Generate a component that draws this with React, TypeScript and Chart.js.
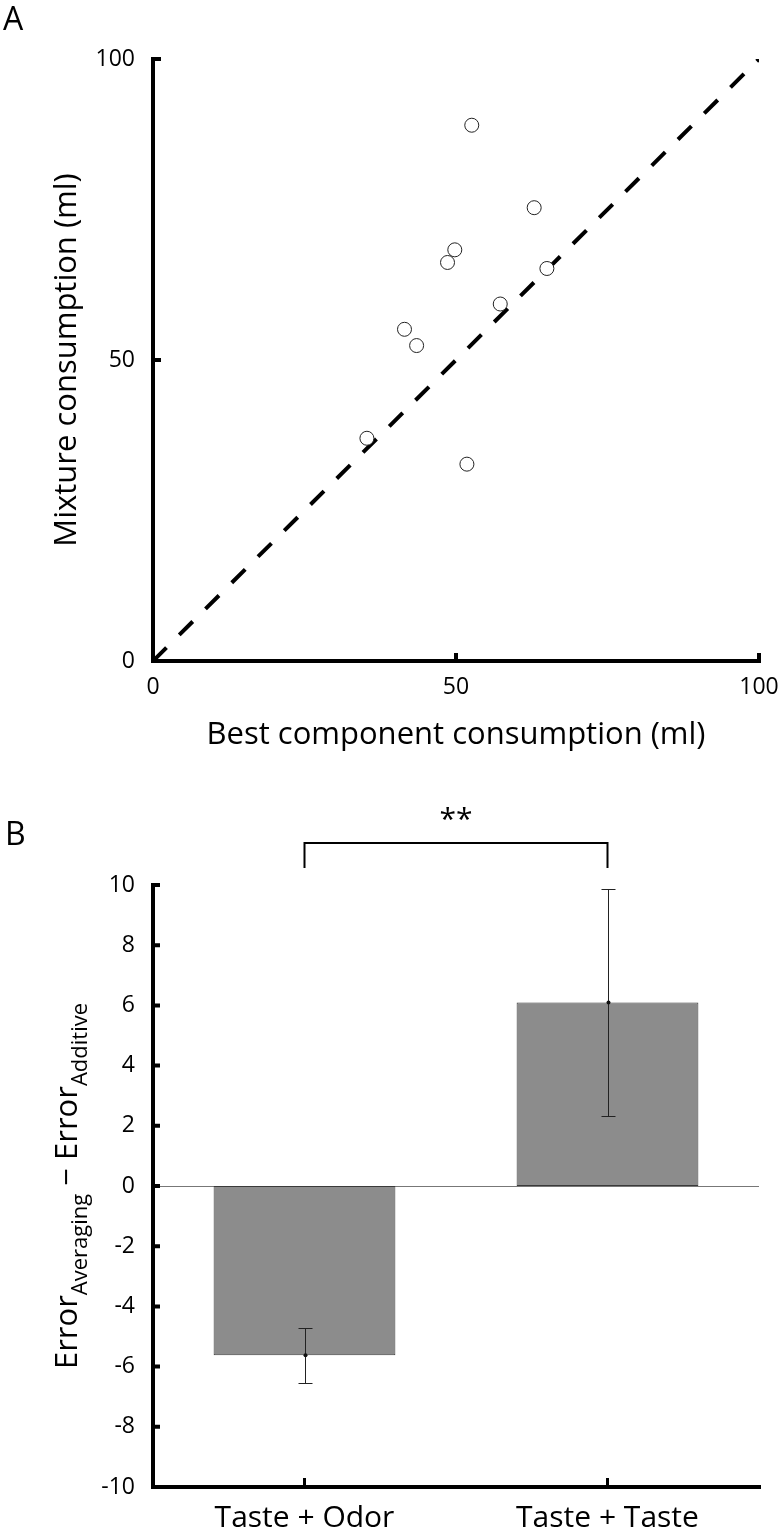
import React, { useEffect, useRef } from 'react';
import { Chart, registerables } from 'chart.js';

Chart.register(...registerables);

const FONT = '"Open Sans", "Noto Sans", sans-serif';

// ---------- Panel A data ----------
const bestComponent = [52.6, 62.9, 49.8, 48.6, 65.0, 57.3, 41.5, 43.5, 35.3, 51.8];
const mixture = [89.0, 75.3, 68.3, 66.2, 65.2, 59.3, 55.1, 52.4, 37.0, 32.7];
const identityX = [0, 100];
const identityY = [0, 100];
const axisATicks = [0, 50, 100];
const axisAXTitle = 'Best component consumption (ml)';
const axisAYTitle = 'Mixture consumption (ml)';

// ---------- Panel B data ----------
const conditions = ['Taste + Odor', 'Taste + Taste'];
const errorDiff = [-5.62, 6.1];
const errorSE = [0.91, 3.77];
const axisBTicks = [-10, -8, -6, -4, -2, 0, 2, 4, 6, 8, 10];
const significance = '**';

const zeroPad = (s: any) => {
  s.paddingLeft = 0;
  s.paddingRight = 0;
  s.paddingTop = 0;
  s.paddingBottom = 0;
};

const scatterDecor = {
  id: 'scatterDecor',
  afterDraw(chart: any) {
    const { ctx, chartArea } = chart;
    const { left, right, top, bottom } = chartArea;
    const xs = chart.scales.x;
    const ys = chart.scales.y;
    ctx.save();
    ctx.strokeStyle = '#000';
    ctx.lineWidth = 4;
    ctx.lineCap = 'butt';
    ctx.beginPath();
    ctx.moveTo(left, top - 2);
    ctx.lineTo(left, bottom + 2);
    ctx.moveTo(left - 2, bottom);
    ctx.lineTo(right + 2, bottom);
    axisATicks.forEach((v) => {
      if (v === 0) return;
      const y = ys.getPixelForValue(v);
      ctx.moveTo(left, y);
      ctx.lineTo(left + 8, y);
      const x = xs.getPixelForValue(v);
      ctx.moveTo(x, bottom);
      ctx.lineTo(x, bottom - 8);
    });
    ctx.stroke();

    ctx.fillStyle = '#000';
    ctx.font = `31px ${FONT}`;
    ctx.textAlign = 'center';
    ctx.textBaseline = 'alphabetic';
    ctx.fillText(axisAXTitle, (left + right) / 2, 744);

    ctx.save();
    ctx.translate(76, (top + bottom) / 2);
    ctx.rotate(-Math.PI / 2);
    ctx.fillText(axisAYTitle, 0, 0);
    ctx.restore();

    ctx.textAlign = 'left';
    ctx.font = `32px ${FONT}`;
    ctx.fillText('A', 3, 30);
    ctx.restore();
  },
};

const barDecor = {
  id: 'barDecor',
  beforeDatasetsDraw(chart: any) {
    const { ctx, chartArea } = chart;
    const ys = chart.scales.y;
    const y0 = Math.round(ys.getPixelForValue(0)) + 0.5;
    ctx.save();
    ctx.strokeStyle = '#777';
    ctx.lineWidth = 1;
    ctx.beginPath();
    ctx.moveTo(chartArea.left, y0);
    ctx.lineTo(chartArea.right, y0);
    ctx.stroke();
    ctx.restore();
  },
  afterDatasetsDraw(chart: any) {
    const { ctx } = chart;
    const ys = chart.scales.y;
    const meta = chart.getDatasetMeta(0);
    ctx.save();
    ctx.strokeStyle = '#222';
    ctx.fillStyle = '#111';
    ctx.lineWidth = 1;
    errorDiff.forEach((m, i) => {
      const x = Math.round(meta.data[i].x) + 0.5;
      const yHi = Math.round(ys.getPixelForValue(m + errorSE[i])) + 0.5;
      const yLo = Math.round(ys.getPixelForValue(m - errorSE[i])) + 0.5;
      ctx.beginPath();
      ctx.moveTo(x, yHi);
      ctx.lineTo(x, yLo);
      ctx.moveTo(x - 7, yHi);
      ctx.lineTo(x + 7, yHi);
      ctx.moveTo(x - 7, yLo);
      ctx.lineTo(x + 7, yLo);
      ctx.stroke();
      ctx.beginPath();
      ctx.arc(x, ys.getPixelForValue(m), 2, 0, Math.PI * 2);
      ctx.fill();
    });
    ctx.restore();
  },
  afterDraw(chart: any) {
    const { ctx, chartArea } = chart;
    const { left, right, top, bottom } = chartArea;
    const xs = chart.scales.x;
    const ys = chart.scales.y;
    ctx.save();
    ctx.strokeStyle = '#000';
    ctx.lineWidth = 4;
    ctx.beginPath();
    ctx.moveTo(left, top - 2);
    ctx.lineTo(left, bottom + 2);
    ctx.moveTo(left - 2, bottom);
    ctx.lineTo(right + 2, bottom);
    axisBTicks.forEach((v) => {
      if (v === -10) return;
      const y = ys.getPixelForValue(v);
      ctx.moveTo(left, y);
      ctx.lineTo(left + 7, y);
    });
    ctx.stroke();
    ctx.lineWidth = 3;
    ctx.beginPath();
    conditions.forEach((_, i) => {
      const x = xs.getPixelForValue(i);
      ctx.moveTo(x, bottom);
      ctx.lineTo(x, bottom - 9);
    });
    ctx.stroke();

    // significance bracket
    const x1 = xs.getPixelForValue(0);
    const x2 = xs.getPixelForValue(1);
    ctx.lineWidth = 2;
    ctx.beginPath();
    ctx.moveTo(x1, top - 17);
    ctx.lineTo(x1, top - 42);
    ctx.lineTo(x2, top - 42);
    ctx.lineTo(x2, top - 17);
    ctx.stroke();
    ctx.fillStyle = '#000';
    ctx.font = `30px ${FONT}`;
    ctx.textAlign = 'center';
    ctx.textBaseline = 'alphabetic';
    ctx.fillText(significance, (x1 + x2) / 2, top - 56);

    // y title with subscripts
    const parts = [
      { t: 'Error', size: 31, dy: 0 },
      { t: 'Averaging', size: 22, dy: 10 },
      { t: ' \u2212 ', size: 31, dy: 0 },
      { t: 'Error', size: 31, dy: 0 },
      { t: 'Additive', size: 22, dy: 10 },
    ];
    let total = 0;
    const widths = parts.map((p) => {
      ctx.font = `${p.size}px ${FONT}`;
      const w = ctx.measureText(p.t).width;
      total += w;
      return w;
    });
    ctx.save();
    ctx.translate(77, (top + bottom) / 2);
    ctx.rotate(-Math.PI / 2);
    ctx.textAlign = 'left';
    let cx = -total / 2;
    parts.forEach((p, i) => {
      ctx.font = `${p.size}px ${FONT}`;
      ctx.fillText(p.t, cx, p.dy);
      cx += widths[i];
    });
    ctx.restore();

    ctx.textAlign = 'left';
    ctx.font = `32px ${FONT}`;
    ctx.fillText('B', 5, 75);
    ctx.restore();
  },
};

function ScatterPanel() {
  const ref = useRef<HTMLCanvasElement>(null);
  useEffect(() => {
    const canvas = ref.current!;
    const chart = new Chart(canvas, {
      type: 'scatter',
      data: {
        datasets: [
          {
            type: 'scatter',
            label: 'Mixtures',
            data: bestComponent.map((x, i) => ({ x, y: mixture[i] })),
            pointRadius: 7,
            pointBackgroundColor: '#fff',
            pointBorderColor: '#222',
            pointBorderWidth: 1,
            order: 0,
          } as any,
          {
            type: 'line',
            label: 'Identity',
            data: identityX.map((x, i) => ({ x, y: identityY[i] })),
            borderColor: '#000',
            borderWidth: 4,
            borderDash: [19, 18],
            borderCapStyle: 'butt',
            pointRadius: 0,
            fill: false,
            showLine: true,
            order: 1,
          } as any,
        ],
      },
      options: {
        responsive: false,
        animation: false,
        devicePixelRatio: 1,
        layout: { padding: { top: 59, right: 21, left: 0, bottom: 0 } },
        plugins: { legend: { display: false }, tooltip: { enabled: false } },
        scales: {
          x: {
            type: 'linear',
            min: 0,
            max: 100,
            afterBuildTicks: (s: any) => {
              s.ticks = axisATicks.map((v) => ({ value: v }));
            },
            afterFit: (s: any) => {
              s.height = 109;
              zeroPad(s);
            },
            grid: { display: false, drawTicks: false },
            border: { display: false },
            ticks: { font: { family: FONT, size: 23 }, color: '#000', padding: 13, maxRotation: 0 },
          },
          y: {
            type: 'linear',
            min: 0,
            max: 100,
            afterBuildTicks: (s: any) => {
              s.ticks = axisATicks.map((v) => ({ value: v }));
            },
            afterFit: (s: any) => {
              s.width = 153;
              zeroPad(s);
            },
            grid: { display: false, drawTicks: false },
            border: { display: false },
            ticks: { font: { family: FONT, size: 23 }, color: '#000', padding: 18 },
          },
        },
      } as any,
      plugins: [scatterDecor],
    });
    return () => chart.destroy();
  }, []);
  return (
    <canvas
      ref={ref}
      width={780}
      height={770}
      style={{ position: 'absolute', left: 0, top: 0, width: 780, height: 770 }}
    />
  );
}

function BarPanel() {
  const ref = useRef<HTMLCanvasElement>(null);
  useEffect(() => {
    const canvas = ref.current!;
    const chart = new Chart(canvas, {
      type: 'bar',
      data: {
        labels: conditions,
        datasets: [
          {
            label: 'Error difference',
            data: errorDiff,
            backgroundColor: '#8c8c8c',
            borderColor: '#3a3a3a',
            borderWidth: 1,
            borderSkipped: false,
            barPercentage: 0.6,
            categoryPercentage: 1,
          } as any,
        ],
      },
      options: {
        responsive: false,
        animation: false,
        devicePixelRatio: 1,
        layout: { padding: { top: 115, right: 21, left: 0, bottom: 0 } },
        plugins: { legend: { display: false }, tooltip: { enabled: false } },
        scales: {
          x: {
            type: 'category',
            offset: true,
            afterFit: (s: any) => {
              s.height = 47;
              zeroPad(s);
            },
            grid: { display: false, drawTicks: false },
            border: { display: false },
            ticks: {
              font: { family: FONT, size: 30 },
              color: '#000',
              padding: 13,
              maxRotation: 0,
              autoSkip: false,
            },
          },
          y: {
            type: 'linear',
            min: -10,
            max: 10,
            afterBuildTicks: (s: any) => {
              s.ticks = axisBTicks.map((v) => ({ value: v }));
            },
            afterFit: (s: any) => {
              s.width = 153;
              zeroPad(s);
            },
            grid: { display: false, drawTicks: false },
            border: { display: false },
            ticks: { font: { family: FONT, size: 23 }, color: '#000', padding: 18 },
          },
        },
      } as any,
      plugins: [barDecor],
    });
    return () => chart.destroy();
  }, []);
  return (
    <canvas
      ref={ref}
      width={780}
      height={764}
      style={{ position: 'absolute', left: 0, top: 770, width: 780, height: 764 }}
    />
  );
}

export default function App() {
  return (
    <div
      style={{
        position: 'absolute',
        left: 0,
        top: 0,
        width: 780,
        height: 1534,
        background: '#fff',
        overflow: 'hidden',
      }}
    >
      <ScatterPanel />
      <BarPanel />
    </div>
  );
}
